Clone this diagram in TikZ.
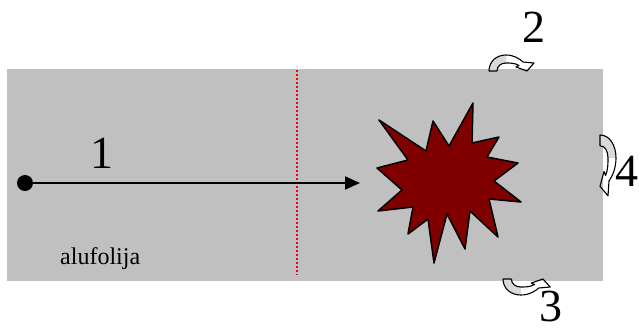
\documentclass[tikz,border=0pt]{standalone}
\usepackage{fontspec}
\setmainfont{Liberation Serif}
\usetikzlibrary{arrows.meta}
\definecolor{foil}{HTML}{C0C0C0}
\definecolor{blast}{HTML}{800000}
\definecolor{bandfill}{HTML}{D9D9D9}
\tikzset{
  digit/.style={font=\fontsize{46}{46}\selectfont, inner sep=0pt, anchor=base},
  smalllabel/.style={font=\fontsize{24}{24}\selectfont, inner sep=0pt, anchor=base west},
  ray/.style={line width=2pt, -{Triangle[length=15pt,width=13pt]}},
  cutline/.style={red, line width=1.5pt, dash pattern=on 2pt off 2pt},
  outline/.style={line width=1.1pt, black, line join=round},
}
% curved arrow: foot at the origin, arching up (negative y) and coming down on the right
\newcommand{\curlyarrow}{%
  \fill[bandfill] (0,0) .. controls (0,-10) and (8,-16) .. (17,-16) -- (17,-8)
    .. controls (12,-8) and (8,-5) .. (8,0) -- cycle;
  \draw[outline] (8,0) -- (0,0) .. controls (0,-10) and (8,-16) .. (17,-16)
    .. controls (25,-16) and (31,-12) .. (34,-9) -- (45,-8) -- (38,0) -- (27,-4) -- (30,-5.5)
    .. controls (26,-8) and (21,-8) .. (17,-8) .. controls (12,-8) and (8,-5) .. (8,0);
}
\begin{document}
\begin{tikzpicture}[x=1pt, y=-1pt]
  \useasboundingbox (0,0) rectangle (639,327);
  % foil sheet
  \fill[foil] (7,69) rectangle (603,281);
  \draw[cutline] (297,70) -- (297,275);
  \node[smalllabel] (foillabel) at (60,264) {alufolija};
  % path of the beam
  \node[circle, fill=black, minimum size=16pt, inner sep=0pt] (src) at (25,183) {};
  \coordinate (tip) at (360,183);
  \draw[ray] (src) -- (tip);
  \node[digit] (n1) at (102,168) {1};
  % explosion
  \draw[outline, line width=1.5pt, fill=blast]
    (379,120) -- (426,151) -- (433,121) -- (449,146) -- (473,103) -- (472,143)
    -- (499,137) -- (487,157) -- (518,163) -- (494,181) -- (521,202) -- (489,199)
    -- (498,237) -- (470,211) -- (465,249) -- (447,214) -- (434,263) -- (428,219)
    -- (408,234) -- (413,207) -- (378,211) -- (402,190) -- (377,168) -- (408,160) -- cycle;
  % curved arrows around the edges
  \begin{scope}[shift={(489,71)}]
    \curlyarrow
  \end{scope}
  \begin{scope}[shift={(503,279)}, yscale=-1, xscale=1.05]
    \curlyarrow
  \end{scope}
  \begin{scope}[shift={(600,135)}, rotate=-90, xscale=1.35]
    \curlyarrow
  \end{scope}
  \node[digit] (n2) at (534,42) {2};
  \node[digit] (n3) at (551,321) {3};
  \node[digit] (n4) at (627,186) {4};
\end{tikzpicture}
\end{document}
